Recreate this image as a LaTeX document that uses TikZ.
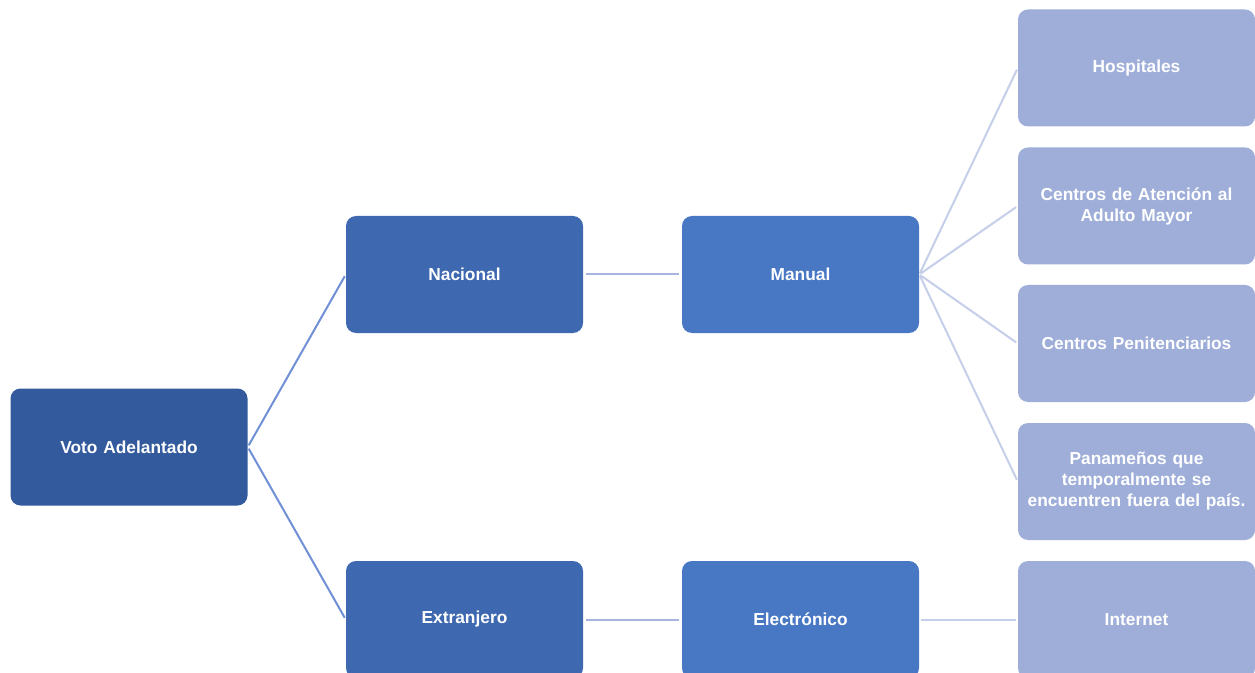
\documentclass[tikz,border=0pt]{standalone}
\usepackage{fontspec}
\setmainfont{Liberation Sans}
\definecolor{c1}{HTML}{335A9C}
\definecolor{c2}{HTML}{3E68B0}
\definecolor{c3}{HTML}{4877C4}
\definecolor{c4}{HTML}{9EAED8}
\definecolor{l1}{HTML}{6F8FD6}
\definecolor{l2}{HTML}{A5B5DF}
\definecolor{l3}{HTML}{C5CFEA}
\tikzset{
  box/.style={rectangle, rounded corners=7.5pt, minimum width=177.75pt, minimum height=87.75pt,
    inner sep=0pt, text width=170pt, align=center, text=white,
    font=\bfseries\fontsize{13}{15.75}\selectfont},
  lvA/.style={box, fill=c1},
  lvB/.style={box, fill=c2},
  lvC/.style={box, fill=c3},
  lvD/.style={box, fill=c4},
  conA/.style={draw=l1, line width=1.5pt, shorten <=1.5pt, shorten >=1.5pt},
  conB/.style={draw=l2, line width=1.5pt, shorten <=2pt, shorten >=2pt},
  conC/.style={draw=l3, line width=1.5pt, shorten <=1pt, shorten >=1.5pt}
}
\begin{document}
\begin{tikzpicture}[x=0.75pt, y=-0.75pt]
\useasboundingbox (0,0) rectangle (1255,673);
\clip (0,0) rectangle (1255,673);
\fill[white] (0,0) rectangle (1255,673);
\node[lvA] (root) at (129,447) {Voto Adelantado};
\node[lvB] (nac) at (464.5,274.5) {Nacional};
\node[lvB] (ext) at (464.5,619.5) {Extranjero};
\node[lvC] (man) at (800.5,274.5) {Manual};
\node[lvC] (ele) at (800.5,619.5) {Electrónico};
\node[lvD] (hos) at (1136.5,68) {Hospitales};
\node[lvD] (cam) at (1136.5,206) {Centros de Atención al\\Adulto Mayor};
\node[lvD] (pen) at (1136.5,343.5) {Centros Penitenciarios};
\node[lvD] (pan) at (1136.5,481.5) {Panameños que\\temporalmente se\\encuentren fuera del país.};
\node[lvD] (int) at (1136.5,619.5) {Internet};
\draw[conA] (root.east) -- (nac.west);
\draw[conA] (root.east) -- (ext.west);
\draw[conB] (nac.east) -- (man.west);
\draw[conB] (ext.east) -- (ele.west);
\draw[conC] (man.east) -- (hos.west);
\draw[conC] (man.east) -- (cam.west);
\draw[conC] (man.east) -- (pen.west);
\draw[conC] (man.east) -- (pan.west);
\draw[conC] (ele.east) -- (int.west);
\end{tikzpicture}
\end{document}
